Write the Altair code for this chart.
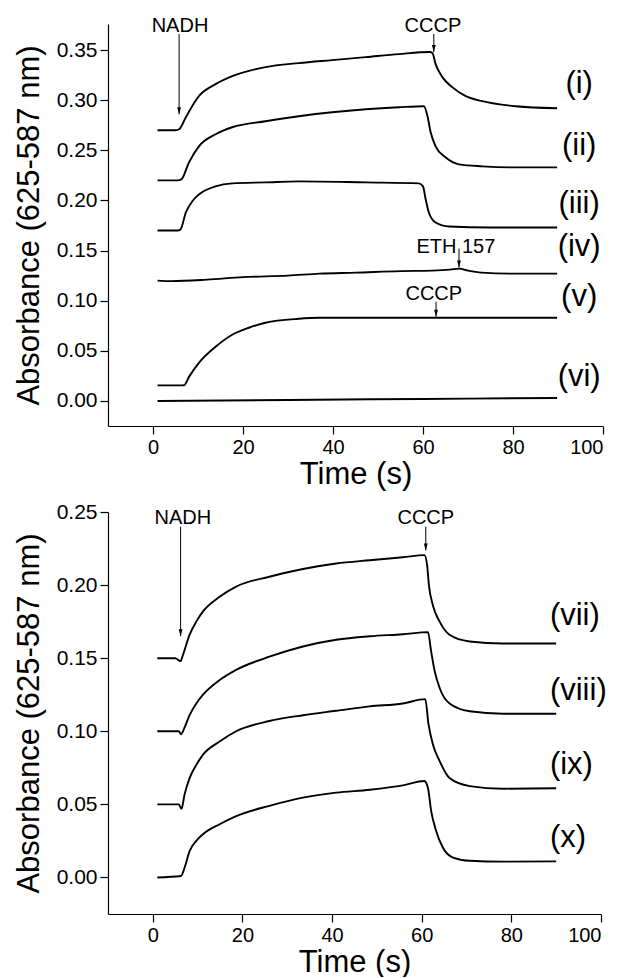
import altair as alt
import pandas as pd

FONT = "Liberation Sans"

# ---------------- Top panel data ----------------
t_i = [1, 5.0, 5.8, 7.3, 8.7, 10.2, 13.9, 17.6, 25, 32.4, 39.8, 47.3, 54.7, 61.5, 62.1, 62.8, 64.3, 66.5, 69.5, 73.2, 80.6, 89.8]
a_i = [0.270, 0.270, 0.271, 0.283, 0.294, 0.304, 0.316, 0.324, 0.333, 0.337, 0.340, 0.343, 0.346, 0.348, 0.347, 0.336, 0.323, 0.313, 0.304, 0.299, 0.294, 0.292]

t_ii = [1, 5.5, 6.3, 8.0, 10.2, 13.9, 17.6, 25, 32.4, 39.8, 47.3, 54.7, 60.2, 61.0, 61.7, 62.8, 65, 68, 73.2, 80, 89.8]
a_ii = [0.220, 0.220, 0.221, 0.238, 0.254, 0.266, 0.273, 0.279, 0.284, 0.288, 0.291, 0.293, 0.294, 0.284, 0.268, 0.254, 0.243, 0.236, 0.234, 0.233, 0.233]

t_iii = [1, 5.5, 6.1, 7.3, 8.7, 10.2, 13.9, 17.6, 25, 32.4, 47.3, 59.1, 60.0, 60.6, 61.3, 62.8, 65.8, 75, 89.8]
a_iii = [0.170, 0.170, 0.171, 0.188, 0.199, 0.206, 0.214, 0.217, 0.218, 0.219, 0.218, 0.217, 0.214, 0.201, 0.188, 0.178, 0.174, 0.173, 0.173]

t_iv = [1, 4, 12, 20, 30, 37, 45, 55, 62, 66, 68, 70, 73, 80, 89.8]
a_iv = [0.120, 0.1195, 0.121, 0.1235, 0.125, 0.127, 0.128, 0.1295, 0.130, 0.131, 0.132, 0.130, 0.128, 0.127, 0.127]

t_v = [1, 6.0, 6.9, 8.0, 10.2, 13.9, 17.6, 21.3, 25, 32.4, 36.9, 50, 62.9, 75, 89.8]
a_v = [0.0155, 0.0155, 0.0157, 0.024, 0.038, 0.054, 0.066, 0.073, 0.078, 0.082, 0.083, 0.083, 0.083, 0.083, 0.083]

t_vi = [1, 30, 60, 89.8]
a_vi = [0.000, 0.001, 0.002, 0.003]

# ---------------- Bottom panel data ----------------
t_vii = [1, 5, 6.2, 6.7, 8.2, 9.7, 11.2, 14.9, 18.6, 26, 33.5, 40.9, 48.4, 55.8, 60.6, 61.2, 61.6, 62.5, 64, 66.2, 70.7, 78.1, 90]
a_vii = [0.150, 0.150, 0.148, 0.152, 0.166, 0.175, 0.182, 0.192, 0.199, 0.2057, 0.211, 0.2148, 0.217, 0.219, 0.2205, 0.2137, 0.200, 0.186, 0.175, 0.166, 0.1614, 0.160, 0.160]

t_viii = [1, 5.8, 6.3, 7.0, 8.2, 9.7, 11.2, 14.9, 18.6, 26, 33.5, 40.9, 48.4, 55.8, 61.4, 62.1, 62.9, 64, 66.2, 70.7, 78.1, 90]
a_viii = [0.100, 0.100, 0.098, 0.102, 0.111, 0.119, 0.125, 0.135, 0.142, 0.151, 0.158, 0.1626, 0.165, 0.1664, 0.1678, 0.1546, 0.141, 0.1296, 0.119, 0.1137, 0.112, 0.112]

t_ix = [1, 5.8, 6.4, 7.1, 8.2, 9.7, 11.2, 14.9, 18.6, 26, 33.5, 40.9, 48.4, 55.8, 60.8, 61.5, 62.5, 64, 66.2, 70.7, 78.1, 90]
a_ix = [0.050, 0.050, 0.047, 0.057, 0.068, 0.077, 0.084, 0.093, 0.100, 0.107, 0.111, 0.114, 0.117, 0.119, 0.122, 0.105, 0.091, 0.0796, 0.068, 0.0625, 0.0607, 0.061]

t_x = [1, 6.3, 7.1, 8.2, 9.7, 11.2, 14.9, 18.6, 26, 33.5, 40.9, 48.4, 55.8, 60.6, 61.4, 62.1, 63.2, 64.7, 67, 70.7, 78.1, 90]
a_x = [0.000, 0.001, 0.0068, 0.018, 0.025, 0.0296, 0.0364, 0.042, 0.049, 0.0546, 0.058, 0.060, 0.063, 0.066, 0.061, 0.0455, 0.032, 0.0205, 0.0136, 0.0114, 0.0108, 0.011]

# ---------------- Labels and annotations ----------------
top_names = ["(i)", "(ii)", "(iii)", "(iv)", "(v)", "(vi)"]
top_label_t = [94.7, 94.7, 94.7, 94.7, 94.7, 94.7]
top_label_a = [0.316, 0.254, 0.196, 0.154, 0.104, 0.024]

bot_names = ["(vii)", "(viii)", "(ix)", "(x)"]
bot_label_t = [88.6, 88.6, 88.6, 88.6]
bot_label_a = [0.1787, 0.1275, 0.077, 0.0273]

top_ann_text = ["NADH", "CCCP", "ETH 157", "CCCP"]
top_ann_t = [6.0, 62.2, 67.3, 62.4]
top_ann_a = [0.368, 0.368, 0.148, 0.101]
top_arrow_t = [5.8, 62.4, 68.0, 62.9]
top_arrow_from = [0.366, 0.366, 0.152, 0.099]
top_arrow_to = [0.286, 0.348, 0.133, 0.084]

bot_ann_text = ["NADH", "CCCP"]
bot_ann_t = [6.7, 60.9]
bot_ann_a = [0.242, 0.242]
bot_arrow_t = [6.2, 60.9]
bot_arrow_from = [0.240, 0.240]
bot_arrow_to = [0.165, 0.2237]


def series_df(names, ts, as_):
    rows = []
    for n, t, a in zip(names, ts, as_):
        for tt, aa in zip(t, a):
            rows.append({"s": n, "t": tt, "a": aa})
    return pd.DataFrame(rows)


top_df = series_df(top_names, [t_i, t_ii, t_iii, t_iv, t_v, t_vi],
                   [a_i, a_ii, a_iii, a_iv, a_v, a_vi])
bot_df = series_df(bot_names, [t_vii, t_viii, t_ix, t_x],
                   [a_vii, a_viii, a_ix, a_x])

ARROW = "M-0.55,-1L0.55,-1L0,1Z"


def panel(df, names, lt, la, label_align, ann_text, ann_t, ann_a,
          ar_t, ar_from, ar_to, ydomain, yvals, width, height, title_pad,
          xtitle_pad):
    x = alt.X("t:Q", scale=alt.Scale(domain=[-10, 100], nice=False, zero=False),
              axis=alt.Axis(values=[0, 20, 40, 60, 80, 100], title="Time (s)",
                            labelFontSize=20, titleFontSize=31,
                            titlePadding=xtitle_pad, format="d"))
    y = alt.Y("a:Q", scale=alt.Scale(domain=ydomain, nice=False, zero=False),
              axis=alt.Axis(values=yvals, format=".2f",
                            title="Absorbance (625-587 nm)",
                            labelFontSize=21, titleFontSize=31,
                            titlePadding=title_pad))
    lines = alt.Chart(df).mark_line(color="black", strokeWidth=1.9,
                                    interpolate="monotone").encode(
        x=x, y=y, detail="s:N")
    lab_df = pd.DataFrame({"t": lt, "a": la, "lab": names})
    labels = alt.Chart(lab_df).mark_text(
        fontSize=31, font=FONT, align=label_align, baseline="middle",
        color="black").encode(x="t:Q", y="a:Q", text="lab:N")
    ann_df = pd.DataFrame({"t": ann_t, "a": ann_a, "lab": ann_text})
    ann = alt.Chart(ann_df).mark_text(
        fontSize=20, font=FONT, align="center", baseline="alphabetic",
        color="black").encode(x="t:Q", y="a:Q", text="lab:N")
    ar_df = pd.DataFrame({"t": ar_t, "a": ar_from, "a2": ar_to})
    stems = alt.Chart(ar_df).mark_rule(color="black", strokeWidth=1).encode(
        x="t:Q", y="a:Q", y2="a2:Q")
    head_df = pd.DataFrame({"t": ar_t, "a": ar_to})
    heads = alt.Chart(head_df).mark_point(
        shape=ARROW, filled=True, color="black", size=49, opacity=1,
        yOffset=-3.5).encode(x="t:Q", y="a:Q")
    return alt.layer(lines, labels, ann, stems, heads).properties(
        width=width, height=height)


top = panel(top_df, top_names, top_label_t, top_label_a, "center",
            top_ann_text, top_ann_t, top_ann_a,
            top_arrow_t, top_arrow_from, top_arrow_to,
            [-0.025, 0.376], [0, 0.05, 0.10, 0.15, 0.20, 0.25, 0.30, 0.35],
            495, 402, 11, 2)
bottom = panel(bot_df, bot_names, bot_label_t, bot_label_a, "left",
               bot_ann_text, bot_ann_t, bot_ann_a,
               bot_arrow_t, bot_arrow_from, bot_arrow_to,
               [-0.025, 0.25], [0, 0.05, 0.10, 0.15, 0.20, 0.25],
               493, 402, 11, 2)

chart = alt.concat(top, bottom, columns=1, spacing=12).configure_view(
    stroke=None
).configure_axis(
    grid=False, domainColor="black", domainWidth=1.2, tickColor="black",
    tickWidth=1.2, tickSize=8, labelColor="black", titleColor="black",
    labelFont=FONT, titleFont=FONT, titleFontWeight="normal", labelPadding=3
).properties(
    padding={"left": 5, "top": 8, "right": 0, "bottom": 0}
)

chart.save("out.html", embed_options={"renderer": "svg", "actions": False})
